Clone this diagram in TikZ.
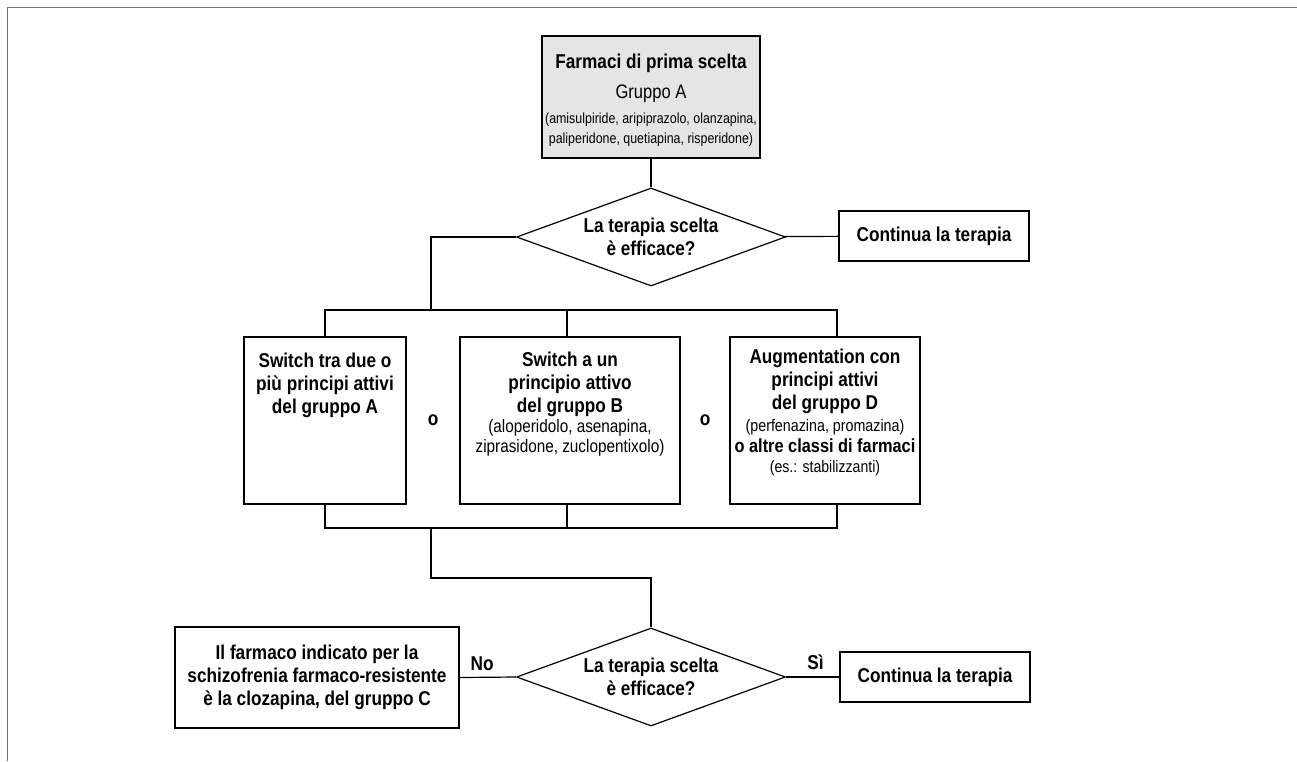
\documentclass[tikz,border=0pt]{standalone}
\usepackage{fontspec}
\setmainfont{Liberation Sans}[UprightFeatures={FakeStretch=0.85}, BoldFeatures={FakeStretch=0.86}]
\usetikzlibrary{shapes.geometric}

\newcommand{\toptext}[4]{\begin{minipage}[c][#2][t]{#1}\centering\vspace*{#3}#4\end{minipage}}
\newcommand{\bigb}{\bfseries\fontsize{20}{23}\selectfont}

\tikzset{
  box/.style={draw, line width=1.2pt, align=center, inner sep=0pt, font=\bigb},
  tallbox/.style={draw, line width=1.2pt, inner sep=1pt, minimum height=167pt},
  decision/.style={draw, line width=1.2pt, diamond, aspect=2.74, inner sep=0pt,
    minimum width=269pt, minimum height=98pt, align=center, font=\bigb},
  link/.style={line width=1.2pt}
}

\begin{document}
\begin{tikzpicture}[x=1pt, y=-1pt]
    \useasboundingbox (0,0) rectangle (1297,761);
    \draw[black!55, line width=1.6pt] (7.5,761) -- (7.5,7.5) -- (1297,7.5);

    % nodi
    \node[tallbox, fill=black!10, minimum width=218pt, minimum height=122pt] (first) at (651,97)
      {\toptext{214pt}{120pt}{16.7pt}{{\bigb Farmaci di prima scelta\par}
       {\fontsize{19.5}{30}\selectfont Gruppo A\par}\vspace{5pt}
       {\fontsize{14.6}{20}\selectfont (amisulpiride, aripiprazolo, olanzapina,\\paliperidone, quetiapina, risperidone)\par}}};
    \node[decision] (dec1) at (651,237) {La terapia scelta\\è efficace?};
    \node[box, minimum width=190pt, minimum height=50pt] (cont1) at (934,236) {Continua la terapia};

    \node[tallbox, minimum width=162pt] (sw1) at (325,420.5)
      {\toptext{160pt}{165pt}{15pt}{\bigb Switch tra due o\\più principi attivi\\del gruppo A\par}};
    \node[tallbox, minimum width=220pt] (sw2) at (570,420.5)
      {\toptext{218pt}{165pt}{14pt}{{\bigb Switch a un\\principio attivo\\del gruppo B\par}
        {\fontsize{18}{20}\selectfont (aloperidolo, asenapina,\\ziprasidone, zuclopentixolo)\par}}};
    \node[tallbox, minimum width=190pt] (sw3) at (825,420.5)
      {\toptext{188pt}{165pt}{10.7pt}{{\bigb Augmentation con\\principi attivi\\del gruppo D\par}
        {\fontsize{16.8}{22}\selectfont (perfenazina, promazina)\par}
        {\bigb\fontsize{19}{21}\selectfont o altre classi di farmaci\par}
        {\fontsize{16.6}{20}\selectfont (es.: stabilizzanti)\par}}};
    \node[font=\bigb] (orA) at (433,420) {o};
    \node[font=\bigb] (orB) at (705,420) {o};

    \node[decision] (dec2) at (651,677) {La terapia scelta\\è efficace?};
    \node[box, minimum width=284pt, minimum height=101pt] (clozap) at (317,677.5)
      {Il farmaco indicato per la\\schizofrenia farmaco-resistente\\è la clozapina, del gruppo C};
    \node[box, minimum width=190pt, minimum height=50pt] (cont2) at (935,677) {Continua la terapia};

    \coordinate (bus1) at (431,310);
    \coordinate (bus2) at (431,528);
    \coordinate (bend) at (651,578);

    % linee
    \draw[link] (first) -- (dec1);
    \draw[link] (dec1) -- (cont1);
    \draw[link] (dec1.west) -| (bus1);
    \draw[link] (sw1.north) |- (bus1) -| ([xshift=12pt]sw3.north);
    \draw[link] ([xshift=-3pt]sw2.north) -- ([xshift=-3pt]sw2.north |- bus1);
    \draw[link] (sw1.south) |- (bus2) -| ([xshift=12pt]sw3.south);
    \draw[link] ([xshift=-3pt]sw2.south) -- ([xshift=-3pt]sw2.south |- bus2);
    \draw[link] (bus2) |- (bend) -- (dec2.north);
    \draw[link] (dec2.west) -- node[above=3pt, pos=0.6, font=\bigb] {No} (clozap.east);
    \draw[link] (dec2.east) -- node[above=3pt, pos=0.55, font=\bigb] {Sì} (cont2.west);
\end{tikzpicture}
\end{document}
